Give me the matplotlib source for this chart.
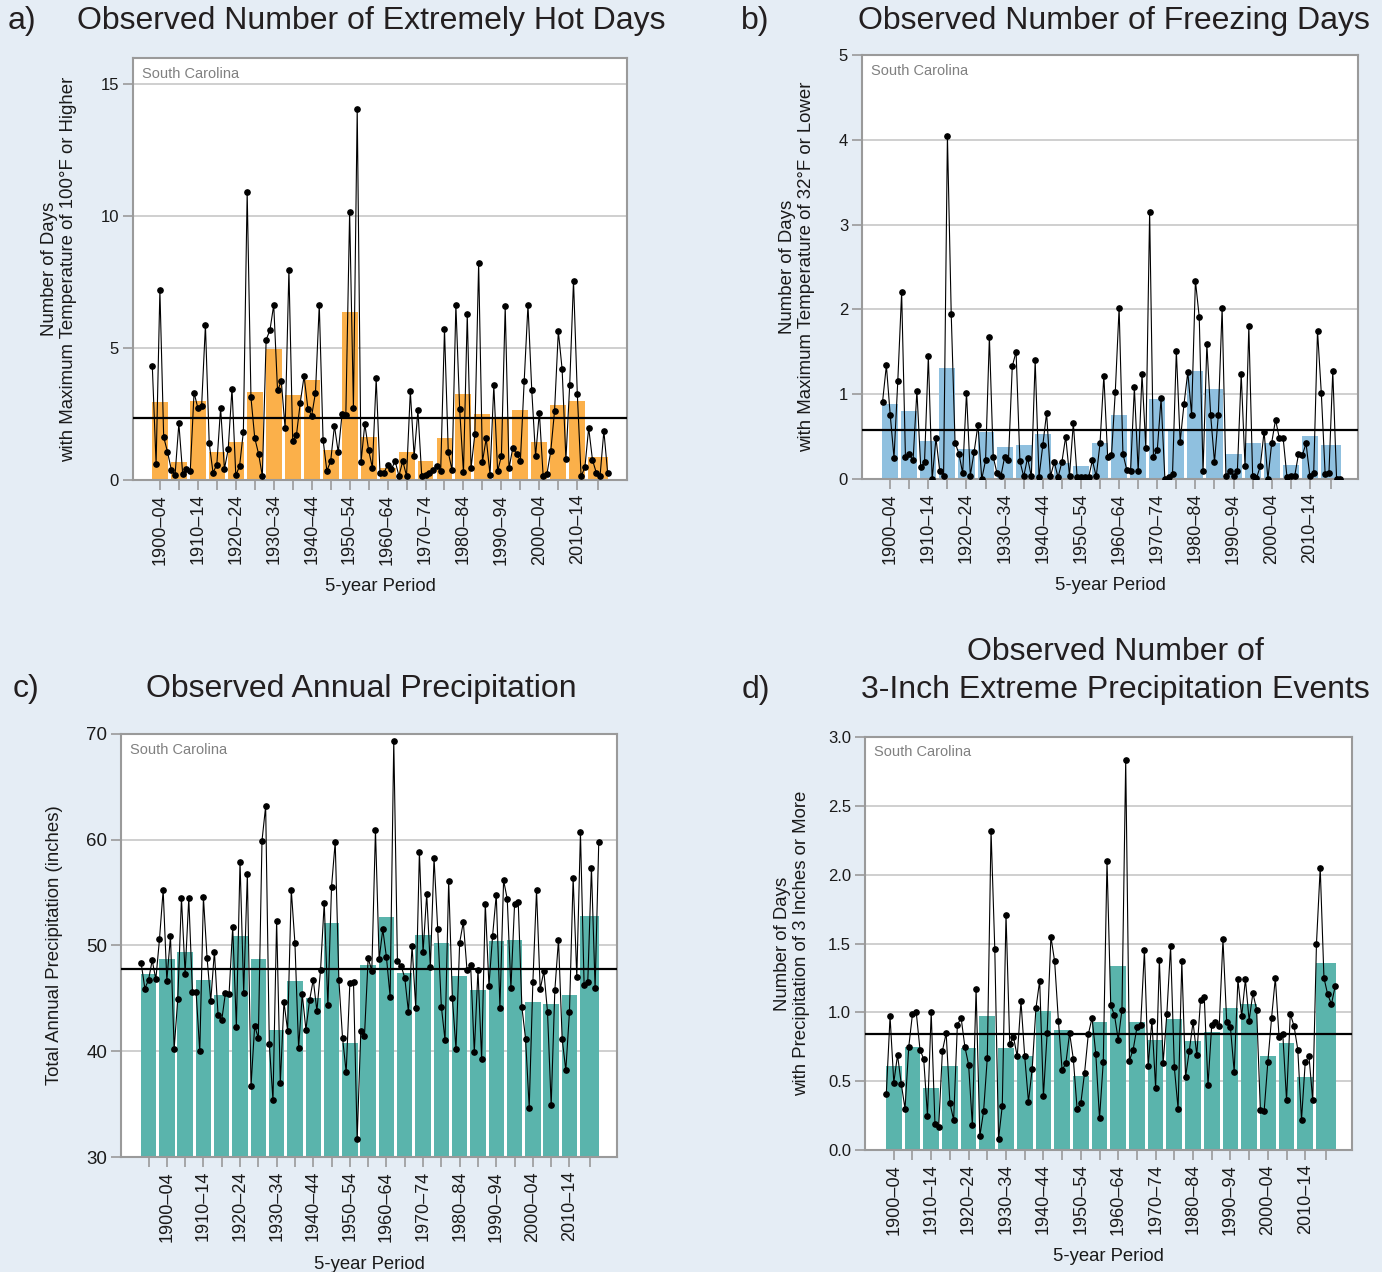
import numpy as np
import matplotlib.pyplot as plt

plt.rcParams['font.family'] = ['Liberation Sans', 'DejaVu Sans']

# annual values and 5-year means, South Carolina
years = list(range(1900, 2021))
precip_years = list(range(1895, 2021))

hot_days = [4.32, 0.61, 7.20, 1.63, 1.07, 0.40, 0.20, 2.15, 0.24, 0.42,
            0.33, 3.31, 2.74, 2.82, 5.88, 1.39, 0.28, 0.58, 2.74, 0.42,
            1.16, 3.47, 0.18, 0.53, 1.83, 10.92, 3.13, 1.59, 1.00, 0.16,
            5.32, 5.68, 6.64, 3.40, 3.74, 1.96, 7.98, 1.48, 1.72, 2.94,
            3.94, 2.71, 2.44, 3.31, 6.65, 1.53, 0.35, 0.71, 2.06, 1.05,
            2.50, 2.46, 10.15, 2.75, 14.07, 0.67, 2.12, 1.14, 0.47, 3.85,
            0.28, 0.25, 0.58, 0.42, 0.71, 0.16, 0.72, 0.16, 3.36, 0.90,
            2.64, 0.16, 0.18, 0.28, 0.37, 0.54, 0.35, 5.72, 1.05, 0.37,
            6.65, 2.68, 0.29, 6.28, 0.45, 1.74, 8.22, 0.69, 1.58, 0.21,
            3.59, 0.34, 0.91, 6.58, 0.44, 1.22, 1.00, 0.73, 3.74, 6.64,
            3.40, 0.90, 2.56, 0.16, 0.23, 1.09, 2.61, 5.64, 4.20, 0.78,
            3.62, 7.56, 3.27, 0.14, 0.48, 1.98, 0.76, 0.28, 0.16, 1.86,
            0.27]
hot_5yr = [2.97, 0.67, 3.00, 1.07, 1.43, 3.35, 4.95, 3.22, 3.79, 1.14, 6.38, 1.63,
           0.44, 1.05, 0.71, 1.60, 3.26, 2.49, 2.37, 2.65, 1.45, 2.86, 3.01, 0.88]
hot_avg = 2.35

freeze_days = [0.91, 1.34, 0.76, 0.25, 1.16, 2.20, 0.26, 0.29, 0.22, 1.04,
               0.14, 0.20, 1.45, 0.00, 0.48, 0.09, 0.04, 4.05, 1.94, 0.43,
               0.30, 0.07, 1.02, 0.04, 0.32, 0.64, 0.00, 0.22, 1.68, 0.26,
               0.07, 0.03, 0.26, 0.22, 1.33, 1.50, 0.21, 0.03, 0.25, 0.03,
               1.40, 0.02, 0.40, 0.78, 0.03, 0.20, 0.02, 0.20, 0.50, 0.04,
               0.66, 0.02, 0.02, 0.02, 0.02, 0.22, 0.03, 0.42, 1.22, 0.26,
               0.28, 1.03, 2.02, 0.30, 0.11, 0.09, 1.08, 0.09, 1.24, 0.37,
               3.15, 0.26, 0.34, 0.95, 0.00, 0.02, 0.06, 1.51, 0.44, 0.88,
               1.26, 0.76, 2.34, 1.91, 0.09, 1.59, 0.75, 0.20, 0.75, 2.02,
               0.03, 0.10, 0.03, 0.10, 1.24, 0.15, 1.80, 0.03, 0.01, 0.15,
               0.56, 0.00, 0.43, 0.70, 0.48, 0.48, 0.02, 0.03, 0.03, 0.29,
               0.28, 0.42, 0.03, 0.07, 1.75, 1.01, 0.06, 0.07, 1.27, 0.00,
               0.00]
freeze_5yr = [0.88, 0.80, 0.45, 1.31, 0.35, 0.56, 0.38, 0.40, 0.53, 0.19, 0.15, 0.43,
              0.75, 0.57, 0.94, 0.58, 1.27, 1.06, 0.30, 0.43, 0.43, 0.17, 0.51, 0.40]
freeze_avg = 0.58

precip = [48.31, 45.92, 46.74, 48.60, 46.80,
          50.61, 55.25, 46.67, 50.87, 40.21, 44.97, 54.49, 47.34, 54.49, 45.60,
          45.60, 39.99, 54.56, 48.79, 44.75, 49.42, 43.40, 42.92, 45.48, 45.38,
          51.75, 42.32, 57.93, 45.51, 56.76, 36.68, 42.42, 41.22, 59.91, 63.16,
          40.65, 35.36, 52.35, 36.97, 44.66, 41.95, 55.25, 50.21, 40.31, 45.38,
          42.04, 44.81, 46.77, 43.81, 47.71, 54.05, 44.34, 55.56, 59.79, 46.74,
          41.28, 38.01, 46.42, 46.55, 31.67, 41.95, 41.47, 48.79, 47.62, 60.92,
          48.69, 51.53, 48.88, 45.16, 69.37, 48.50, 48.06, 46.96, 43.74, 49.95,
          44.12, 58.84, 49.35, 54.87, 47.94, 58.27, 51.59, 44.22, 41.06, 56.10,
          45.07, 40.18, 50.27, 52.22, 47.68, 48.12, 39.90, 47.68, 39.24, 53.96,
          46.20, 50.93, 54.81, 44.12, 56.16, 54.40, 45.98, 53.89, 54.11, 44.15,
          41.19, 34.67, 46.52, 55.22, 45.86, 47.56, 43.71, 34.89, 45.76, 50.55,
          41.16, 38.20, 43.74, 56.41, 47.02, 60.70, 46.23, 46.55, 57.36, 45.98,
          59.79]
precip_5yr = [47.27, 48.72, 49.38, 46.74, 45.30, 50.85, 48.68, 42.00, 46.62, 45.03,
              52.10, 40.79, 48.15, 52.73, 47.44, 51.02, 50.25, 47.08, 45.78, 50.44,
              50.51, 44.69, 44.49, 45.31, 52.77]
precip_avg = 47.78

heavy = [0.41, 0.97, 0.49, 0.69, 0.48, 0.30, 0.75, 0.99, 1.00, 0.73,
         0.66, 0.25, 1.00, 0.19, 0.17, 0.72, 0.85, 0.34, 0.22, 0.91,
         0.96, 0.75, 0.62, 0.18, 1.17, 0.10, 0.28, 0.67, 2.32, 1.46,
         0.08, 0.32, 1.71, 0.77, 0.82, 0.68, 1.08, 0.68, 0.35, 0.59,
         1.03, 1.23, 0.39, 0.85, 1.55, 1.37, 0.94, 0.58, 0.63, 0.85,
         0.66, 0.30, 0.34, 0.56, 0.84, 0.96, 0.70, 0.23, 0.64, 2.10,
         1.05, 0.98, 0.80, 1.02, 2.83, 0.65, 0.73, 0.89, 0.91, 1.45,
         0.61, 0.94, 0.45, 1.38, 0.63, 0.99, 1.48, 0.60, 0.30, 1.37,
         0.53, 0.72, 0.93, 0.69, 1.09, 1.11, 0.47, 0.91, 0.93, 0.90,
         1.53, 0.93, 0.89, 0.57, 1.24, 0.97, 1.24, 0.94, 1.14, 1.02,
         0.29, 0.28, 0.64, 0.96, 1.25, 0.82, 0.84, 0.36, 0.99, 0.90,
         0.73, 0.22, 0.64, 0.68, 0.36, 1.50, 2.05, 1.25, 1.13, 1.06,
         1.19]
heavy_5yr = [0.61, 0.75, 0.45, 0.61, 0.74, 0.97, 0.74, 0.68, 1.01, 0.87, 0.54, 0.93,
             1.34, 0.93, 0.80, 0.95, 0.79, 0.86, 1.03, 1.06, 0.68, 0.78, 0.53, 1.36]
heavy_avg = 0.84


def periods(first, last=2015):
    # 5-year blocks, the final block runs through 2020
    starts = np.arange(first, last + 1, 5)
    ends = starts + 4
    ends[-1] = 2020
    return starts, ends


def draw_panel(ax, yrs, annual, bars, avg, color, ylim, yticks, fmt, xlim,
               ylabel, ylab_x, xlab_y, ytick_size=12):
    starts, ends = periods(yrs[0])
    base = ylim[0]
    ax.bar(x=starts - 0.1, height=np.array(bars) - base, width=ends - starts + 0.2,
           bottom=base, align='edge', color=color, zorder=2)
    ax.axhline(avg, color='black', lw=1.6, zorder=3)
    ax.plot(yrs, annual, '-o', color='black', lw=0.8, ms=3.8, zorder=4)

    centers = (starts + ends) / 2
    labels = [f"{s}\u2013{str(s + 4)[2:]}" if (s % 10 == 0 and s <= 2010) else ''
              for s in starts]
    ax.set_xticks(centers)
    ax.set_xticklabels(labels, rotation=90, fontsize=13)
    ax.set_yticks(yticks)
    ax.set_yticklabels([fmt.format(v) for v in yticks], fontsize=ytick_size)
    ax.set_xlim(*xlim)
    ax.set_ylim(*ylim)

    ax.set_facecolor('white')
    for sp in ax.spines.values():
        sp.set_color('#9a9a9a')
        sp.set_linewidth(1.5)
    ax.tick_params(direction='out', length=7, width=1.2, color='#9a9a9a',
                   labelcolor='#1a1a1a', pad=3)
    ax.yaxis.grid(True, color='#cfcfcf', lw=1.4, zorder=0)
    ax.set_axisbelow(True)

    ax.text(0.019, 0.963, 'South Carolina', transform=ax.transAxes,
            ha='left', va='center', fontsize=10.5, color='#808080',
            family=['Liberation Sans Narrow', 'Liberation Sans'])

    ax.set_xlabel('5-year Period', fontsize=13.3, color='#1a1a1a')
    ax.xaxis.set_label_coords(0.5, xlab_y)
    ax.set_ylabel(ylabel, fontsize=13.4, color='#1a1a1a', linespacing=1.15)
    ax.yaxis.set_label_coords(ylab_x, 0.5)


fig = plt.figure(figsize=(13.82, 12.72), dpi=100)
fig.patch.set_facecolor('#e5edf5')

ax_a = fig.add_axes([0.0962, 0.6226, 0.3575, 0.3318])
ax_b = fig.add_axes([0.6237, 0.6234, 0.3589, 0.3334])
ax_c = fig.add_axes([0.0876, 0.0904, 0.3589, 0.3326])
ax_d = fig.add_axes([0.6259, 0.0959, 0.3524, 0.3247])

draw_panel(ax_a, years, hot_days, hot_5yr, hot_avg, '#fbb04a', (0, 16), [0, 5, 10, 15],
           '{:g}', (1894.9, 2025.1),
           'Number of Days\nwith Maximum Temperature of 100\u00b0F or Higher', -0.113, -0.233)
draw_panel(ax_b, years, freeze_days, freeze_5yr, freeze_avg, '#8fc0df', (0, 5),
           [0, 1, 2, 3, 4, 5], '{:g}', (1894.6, 2024.6),
           'Number of Days\nwith Maximum Temperature of 32\u00b0F or Lower', -0.095, -0.232)
draw_panel(ax_c, precip_years, precip, precip_5yr, precip_avg, '#5ab4ac', (30, 70),
           [30, 40, 50, 60, 70], '{:g}', (1889.5, 2025.0),
           'Total Annual Precipitation (inches)', -0.117, -0.234, ytick_size=13.5)
draw_panel(ax_d, years, heavy, heavy_5yr, heavy_avg, '#5ab4ac', (0, 3.0),
           [0, 0.5, 1.0, 1.5, 2.0, 2.5, 3.0], '{:.1f}', (1894.3, 2024.5),
           'Number of Days\nwith Precipitation of 3 Inches or More', -0.113, -0.238)

# panel titles and letters
title_kw = dict(fontsize=23, color='#231f20', va='center')
fig.text(371 / 1382, 1 - 21 / 1272, 'Observed Number of Extremely Hot Days', ha='center', **title_kw)
fig.text(1114 / 1382, 1 - 21 / 1272, 'Observed Number of Freezing Days', ha='center', **title_kw)
fig.text(361 / 1382, 1 - 689 / 1272, 'Observed Annual Precipitation', ha='center', **title_kw)
fig.text(1115 / 1382, 1 - 671 / 1272, 'Observed Number of\n3-Inch Extreme Precipitation Events',
         ha='center', linespacing=1.33, **title_kw)
fig.text(8 / 1382, 1 - 21 / 1272, 'a)', ha='left', **title_kw)
fig.text(741 / 1382, 1 - 21 / 1272, 'b)', ha='left', **title_kw)
fig.text(13 / 1382, 1 - 689 / 1272, 'c)', ha='left', **title_kw)
fig.text(742 / 1382, 1 - 690 / 1272, 'd)', ha='left', **title_kw)

fig.savefig('out.png', dpi=100, facecolor=fig.get_facecolor())
